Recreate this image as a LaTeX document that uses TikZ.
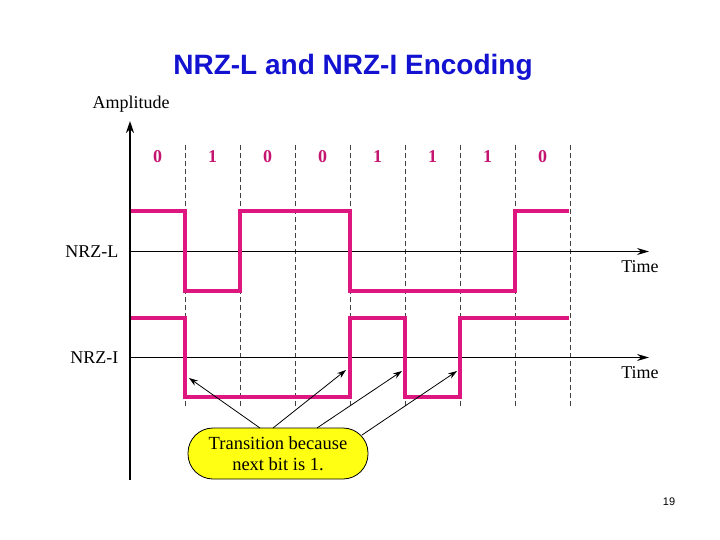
\documentclass[tikz,border=0pt]{standalone}
\usepackage{fontspec}
\setmainfont{Liberation Serif}
\newfontfamily\sansf{Liberation Sans}
\usetikzlibrary{arrows.meta}
\definecolor{wave}{RGB}{222,22,128}
\definecolor{bitc}{RGB}{196,20,112}
\definecolor{titleblue}{RGB}{18,18,208}
\definecolor{callfill}{RGB}{255,255,20}
\tikzset{
  sig/.style={wave,line width=4pt,line join=miter,line cap=butt},
  grid/.style={black!75,dashed,dash pattern=on 5pt off 3pt,line width=0.8pt},
  axis/.style={black,line width=1pt,-{Stealth[length=12pt,width=7pt]}},
  vaxis/.style={black,line width=2pt,-{Stealth[length=12pt,width=8pt]}},
  bit/.style={text=bitc,font=\fontsize{18}{20}\selectfont\bfseries},
  lbl/.style={font=\fontsize{18}{20}\selectfont},
  pointer/.style={black,line width=0.8pt,-{Stealth[length=9pt,width=6pt]}}
}
\begin{document}
\begin{tikzpicture}[x=1pt,y=-1pt]
\useasboundingbox (0,0) rectangle (720,540);
% title
\node[font=\sansf\fontsize{28}{32}\selectfont\bfseries,text=titleblue] (title) at (353,67) {NRZ-L and NRZ-I Encoding};
\node[font=\sansf\fontsize{11}{13}\selectfont] (pg) at (669,502) {19};
% vertical axis
\coordinate (vb) at (130,480);
\coordinate (vt) at (130,121);
\draw[vaxis] (vb) -- (vt);
\node[lbl,anchor=south] (amp) at (131,116) {Amplitude};
% dashed bit boundaries
\foreach \i in {1,...,8} {
  \coordinate (gt\i) at ({130+55*\i},145);
  \coordinate (gb\i) at ({130+55*\i},406);
  \draw[grid] (gt\i) -- (gb\i);
}
% bits
\foreach \b [count=\i] in {0,1,0,0,1,1,1,0} {
  \node[bit] (bit\i) at ({102.5+55*\i},157) {\b};
}
% NRZ-L axis and labels
\coordinate (la) at (130,251.5);
\coordinate (lae) at (649,251.5);
\draw[axis] (la) -- (lae);
\node[lbl,anchor=east] (nrzl) at (122,251.5) {NRZ-L};
\node[lbl] (time1) at (640,267) {Time};
% NRZ-I axis and labels
\coordinate (ia) at (130,357.5);
\coordinate (iae) at (649,357.5);
\draw[axis] (ia) -- (iae);
\node[lbl,anchor=east] (nrzi) at (122,357.5) {NRZ-I};
\node[lbl] (time2) at (640,373) {Time};
% NRZ-L waveform
\draw[sig] (131,211.5) -- (185,211.5) -- (185,291) -- (240,291) -- (240,211.5) -- (350,211.5) -- (350,291) -- (515,291) -- (515,211.5) -- (569,211.5);
% NRZ-I waveform
\draw[sig] (131,318) -- (185,318) -- (185,397) -- (350,397) -- (350,318) -- (405,318) -- (405,397) -- (460,397) -- (460,318) -- (569,318);
% callout
\node[draw=black,line width=0.8pt,fill=callfill,rounded corners=25pt,minimum width=180pt,minimum height=51pt,align=center,font=\fontsize{18.5}{20.5}\selectfont,inner sep=0pt] (call) at (278,453.5) {Transition because\\next bit is 1.};
\coordinate (s1) at (260,428);
\coordinate (s2) at (273,428);
\coordinate (s3) at (317,428);
\coordinate (s4) at (362,435);
\coordinate (t1) at (189,378);
\coordinate (t2) at (346,370);
\coordinate (t3) at (402,371);
\coordinate (t4) at (457,371);
\draw[pointer] (s1) -- (t1);
\draw[pointer] (s2) -- (t2);
\draw[pointer] (s3) -- (t3);
\draw[pointer] (s4) -- (t4);
\end{tikzpicture}
\end{document}
